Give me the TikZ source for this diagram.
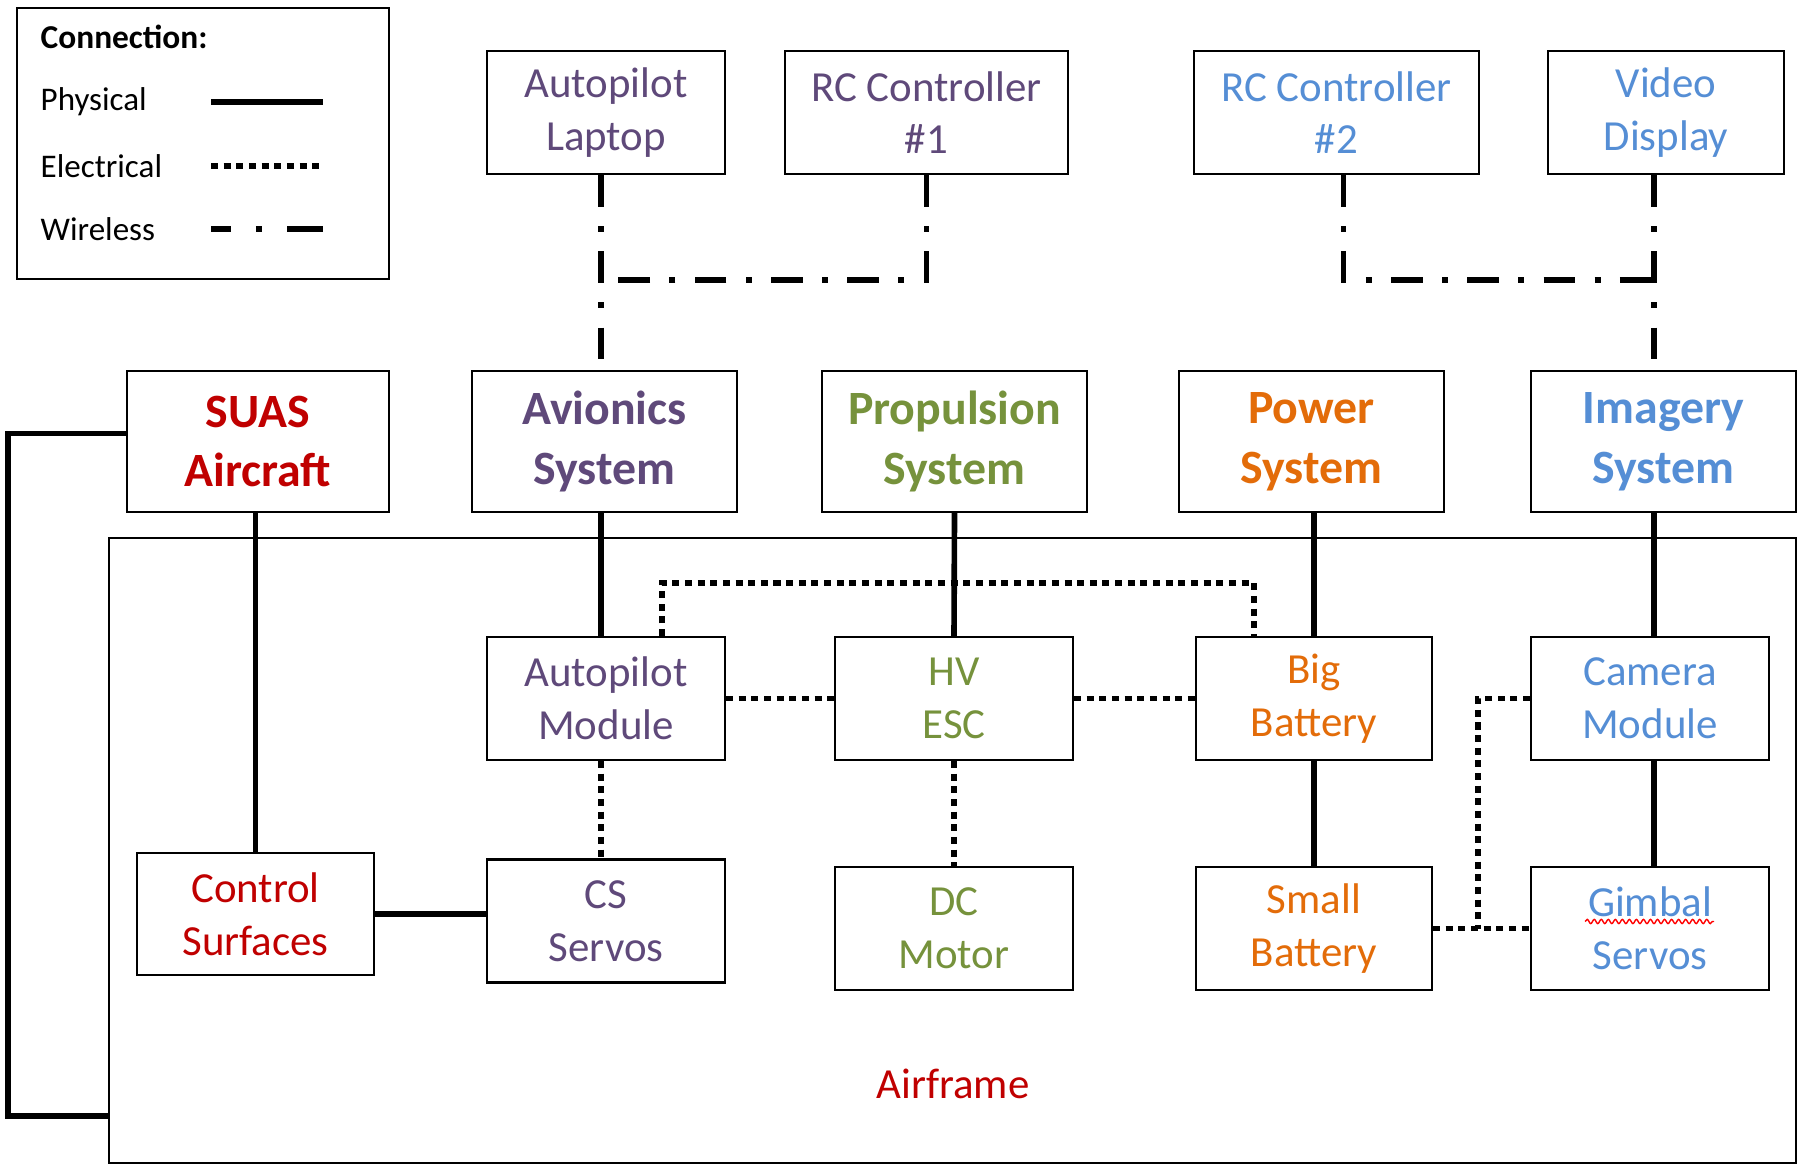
\documentclass[tikz,border=0pt]{standalone}
\usepackage{fontspec}
\setmainfont{Carlito}
\usetikzlibrary{decorations.pathmorphing}

\definecolor{suasred}{HTML}{C00000}
\definecolor{avipurple}{HTML}{5F497A}
\definecolor{propgreen}{HTML}{76923C}
\definecolor{poworange}{HTML}{E36C09}
\definecolor{imgblue}{HTML}{558ED5}

\tikzset{
  blk/.style={draw, line width=0.6pt, fill=white, inner sep=0pt,
    minimum width=2.38cm, minimum height=1.23cm, align=center,
    font=\fontsize{12.2}{15}\selectfont},
  sysblk/.style={blk, minimum width=2.65cm, minimum height=1.41cm,
    font=\fontsize{13.6}{17}\selectfont\bfseries},
  legtext/.style={anchor=west, inner sep=0pt, font=\fontsize{9.4}{11}\selectfont},
  phys/.style={line width=1.6pt},
  elec/.style={line width=1.6pt, dash pattern=on 2pt off 1.6pt},
  wless/.style={line width=1.6pt, dash pattern=on 9pt off 5.5pt on 1.7pt off 5.5pt}
}

\begin{document}
\begin{tikzpicture}
    \useasboundingbox (0,0) rectangle (18.05,-11.64);

    % legend
    \draw[line width=0.6pt] (0.17,-0.08) rectangle (3.89,-2.79);
    \node[legtext, font=\fontsize{9.5}{11}\selectfont\bfseries] (legtitle) at (0.40,-0.37) {Connection:};
    \node[legtext] (legphys) at (0.40,-1.02) {Physical};
    \node[legtext] (legelec) at (0.40,-1.66) {Electrical};
    \node[legtext] (legwless) at (0.40,-2.29) {Wireless};
    \coordinate (lp1) at (2.11,-1.02); \coordinate (lp2) at (3.23,-1.02);
    \coordinate (le1) at (2.11,-1.66); \coordinate (le2) at (3.23,-1.66);
    \coordinate (lw1) at (2.11,-2.29); \coordinate (lw2) at (3.23,-2.29);
    \draw[phys] (lp1) -- (lp2);
    \draw[elec] (le1) -- (le2);
    \draw[line width=1.6pt, dash pattern=on 5.6pt off 7.2pt on 1.7pt off 7.2pt on 12pt] (lw1) -- (lw2);

    % airframe
    \node[draw, line width=0.6pt, inner sep=0pt, minimum width=16.87cm, minimum height=6.25cm] (airframe) at (9.525,-8.505) {};
    \node[text=suasred, font=\fontsize{12.2}{15}\selectfont] (airlabel) at (9.53,-10.84) {Airframe};

    % ground side
    \node[blk, text=avipurple] (laptop) at (6.06,-1.125) {Autopilot\\Laptop};
    \node[blk, text=avipurple, minimum width=2.83cm] (rcone) at (9.265,-1.125) {RC Controller\\\#1};
    \node[blk, text=imgblue, minimum width=2.85cm] (rctwo) at (13.365,-1.125) {RC Controller\\\#2};
    \node[blk, text=imgblue, minimum width=2.36cm] (video) at (16.66,-1.125) {Video\\Display};

    % systems
    \node[sysblk, text=suasred, minimum width=2.62cm] (suas) at (2.58,-4.415) {SUAS\\Aircraft};
    \node[sysblk, text=avipurple] (avio) at (6.045,-4.415) {Avionics\\System};
    \node[sysblk, text=propgreen] (prop) at (9.545,-4.415) {Propulsion\\System};
    \node[sysblk, text=poworange] (power) at (13.115,-4.415) {Power\\System};
    \node[sysblk, text=imgblue] (imag) at (16.635,-4.415) {Imagery\\System};

    % components
    \node[blk, text=avipurple] (apm) at (6.06,-6.985) {Autopilot\\Module};
    \node[blk, text=propgreen] (esc) at (9.54,-6.985) {HV\\ESC};
    \node[blk, text=poworange, minimum width=2.36cm] (bigbat) at (13.14,-6.985) {Big\\Battery};
    \node[blk, text=imgblue] (cam) at (16.5,-6.985) {Camera\\Module};
    \node[blk, text=suasred, minimum width=2.37cm, minimum height=1.22cm] (surf) at (2.555,-9.14) {Control\\Surfaces};
    \node[blk, text=avipurple] (servo) at (6.06,-9.21) {CS\\Servos};
    \node[blk, text=propgreen] (motor) at (9.54,-9.285) {DC\\Motor};
    \node[blk, text=poworange, minimum width=2.36cm] (smbat) at (13.14,-9.285) {Small\\Battery};
    \node[blk, text=imgblue] (gimbal) at (16.5,-9.285) {Gimbal\\Servos};
    \draw[red, line width=0.4pt, decorate, decoration={snake, segment length=2pt, amplitude=0.6pt}]
        ([xshift=-0.65cm,yshift=0.07cm]gimbal.center) -- ([xshift=0.64cm,yshift=0.07cm]gimbal.center);

    % wireless
    \coordinate (wjone) at (6.01,-2.80);
    \coordinate (wjtwo) at (16.54,-2.80);
    \draw[wless] (laptop.south -| wjone) -- (avio.north -| wjone);
    \draw[wless] (rcone.south) |- (wjone);
    \draw[wless] (video.south -| wjtwo) -- (imag.north -| wjtwo);
    \draw[wless] ([xshift=0.07cm]rctwo.south) |- (wjtwo);

    % physical
    \coordinate (loopbot) at (0.08,-11.16);
    \draw[phys] ([yshift=0.08cm]suas.west) -| (loopbot) -- (loopbot -| airframe.west);
    \draw[phys] (suas.south -| surf.north) -- (surf.north);
    \draw[phys] (avio.south -| wjone) -- (apm.north -| wjone);
    \draw[phys] (prop.south) -- (esc.north);
    \draw[phys] (power.south -| bigbat.north) -- (bigbat.north);
    \draw[phys] (imag.south -| wjtwo) -- (cam.north -| wjtwo);
    \draw[phys] (cam.south -| wjtwo) -- (gimbal.north -| wjtwo);
    \draw[phys] (bigbat.south) -- (smbat.north);
    \draw[phys] (surf.east) -- (surf.east -| servo.west);

    % electrical
    \draw[elec] ([xshift=5.6mm]apm.north) |- ([xshift=-6mm,yshift=5.3mm]bigbat.north) -- ([xshift=-6mm]bigbat.north);
    \draw[elec] (apm.east) -- (esc.west);
    \draw[elec] (esc.east) -- (bigbat.west);
    \draw[elec] (apm.south -| wjone) -- (servo.north -| wjone);
    \draw[elec] (esc.south) -- (motor.north);
    \coordinate (ejct) at (14.78,-9.285);
    \draw[elec] (cam.west) -| (ejct);
    \draw[elec] (smbat.east) -- (gimbal.west);
\end{tikzpicture}
\end{document}
